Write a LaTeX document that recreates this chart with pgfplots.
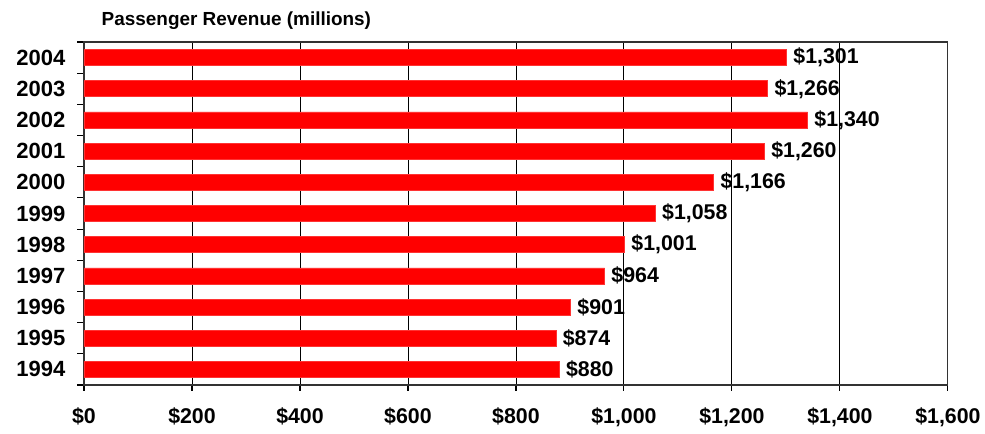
\documentclass[border=0pt]{standalone}
\usepackage{fontspec}
\setmainfont{Liberation Sans}
\usepackage{pgfplots}
\pgfplotsset{compat=1.18}
\begin{document}
\begin{tikzpicture}
\begin{axis}[
  scale only axis,
  width=648pt, height=257.25pt,
  xbar, bar width=12pt,
  xmin=0, xmax=1600,
  ymin=-0.5, ymax=10.5,
  xtick={0,200,...,1600},
  xticklabels={\$0,\$200,\$400,\$600,\$800,{\$1,000},{\$1,200},{\$1,400},{\$1,600}},
  ytick={0,...,10},
  yticklabels={1994,1995,1996,1997,1998,1999,2000,2001,2002,2003,2004},
  minor ytick={-0.5,0.5,...,10.5},
  xtick pos=bottom, ytick pos=left,
  tick align=outside,
  major y tick style={draw=none},
  minor y tick style={black, line width=0.8pt},
  minor tick length=5pt,
  major x tick style={black, line width=0.8pt},
  major tick length=4.5pt,
  xmajorgrids,
  grid style={black, line width=0.7pt},
  axis line style={black!80, line width=0.8pt},
  xticklabel style={font=\fontsize{16}{19}\selectfont\bfseries, yshift=-9pt},
  yticklabel style={font=\fontsize{16.5}{19}\selectfont\bfseries, xshift=-6pt},
  nodes near coords={\$\pgfmathprintnumber[1000 sep={,}, assume math mode=true]{\pgfplotspointmeta}},
  nodes near coords align={horizontal},
  every node near coord/.append style={font=\fontsize{16}{19}\selectfont\bfseries, black, anchor=west, inner sep=5pt},
]
\addplot[fill=red, draw=red!80] coordinates {
  (880,0) (874,1) (901,2) (964,3) (1001,4) (1058,5) (1166,6) (1260,7) (1340,8) (1266,9) (1301,10)
};
\end{axis}
\node[anchor=base west, font=\fontsize{14.2}{17}\selectfont\bfseries] at ([xshift=9.75pt, yshift=12pt]current axis.north west) {Passenger Revenue (millions)};
\path ([xshift=-63pt, yshift=-36.75pt]current axis.south west) rectangle ([xshift=27.75pt, yshift=31.5pt]current axis.north east);
\end{tikzpicture}
\end{document}
